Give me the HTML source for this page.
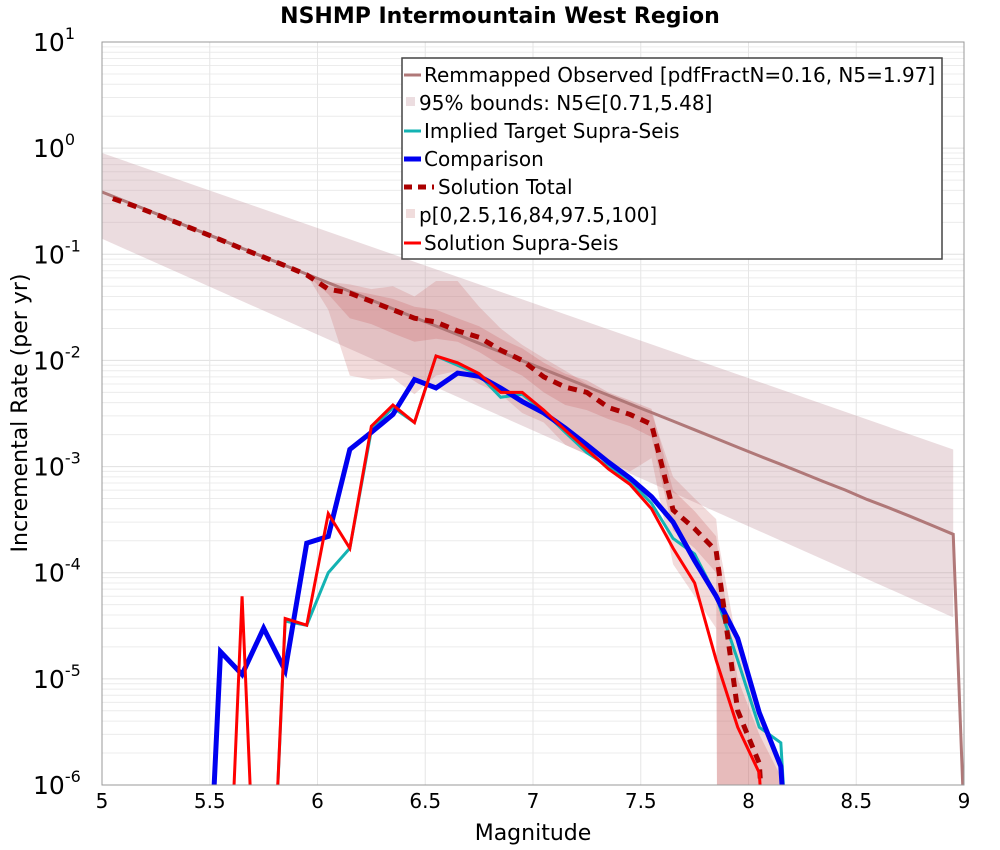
<!DOCTYPE html>
<html><head><meta charset="utf-8"><style>
html,body{margin:0;background:#fff;overflow:hidden;width:1000px;height:850px;}
svg{font-family:"DejaVu Sans","Liberation Sans",sans-serif;display:block;}
</style></head><body>
<svg id="chart" width="1000" height="850" xmlns="http://www.w3.org/2000/svg">
<defs><clipPath id="clip"><rect x="102" y="42" width="862" height="743"/></clipPath></defs>
<rect width="1000" height="850" fill="#fff"/>
<text x="500" y="23" text-anchor="middle" font-size="22" font-weight="bold">NSHMP Intermountain West Region</text>
<g id="grid"></g>
<g id="series" clip-path="url(#clip)"></g>
<rect x="102" y="42" width="862" height="743" fill="none" stroke="#999" stroke-width="1"/>
<g id="axes"></g>
<text x="533" y="840" text-anchor="middle" font-size="22">Magnitude</text>
<text transform="translate(27,413) rotate(-90)" text-anchor="middle" font-size="22">Incremental Rate (per yr)</text>
<g id="legend">
<rect x="402" y="58" width="540" height="201" fill="#fff" stroke="#444" stroke-width="1.5"/>
<g><line x1="404" y1="75" x2="421" y2="75" stroke="#b07878" stroke-width="3"/><text x="424" y="82" font-size="20">Remmapped Observed [pdfFractN=0.16, N5=1.97]</text></g>
<g><rect x="406" y="97" width="9" height="9" fill="#ecdde0"/><text x="419" y="110" font-size="20">95% bounds: N5∈[0.71,5.48]</text></g>
<g><line x1="404" y1="131" x2="421" y2="131" stroke="#13b3b3" stroke-width="3"/><text x="424" y="138" font-size="20">Implied Target Supra-Seis</text></g>
<g><line x1="404" y1="159" x2="421" y2="159" stroke="#0000f0" stroke-width="5"/><text x="424" y="166" font-size="20">Comparison</text></g>
<g><line x1="404" y1="187" x2="434" y2="187" stroke="#aa0000" stroke-width="5" stroke-dasharray="8,6"/><text x="438" y="194" font-size="20">Solution Total</text></g>
<g><rect x="406" y="209" width="9" height="9" fill="#f0dcdc"/><text x="419" y="222" font-size="20">p[0,2.5,16,84,97.5,100]</text></g>
<g><line x1="404" y1="243" x2="421" y2="243" stroke="#ff0000" stroke-width="3"/><text x="424" y="250" font-size="20">Solution Supra-Seis</text></g>
</g>
</svg>
<script>
const obsM=[5.0,5.05,5.15,5.25,5.35,5.45,5.55,5.65,5.75,5.85,5.95,6.05,6.15,6.25,6.35,6.45,6.55,6.65,6.75,6.85,6.95,7.05,7.15,7.25,7.35,7.45,7.55,7.65,7.75,7.85,7.95,8.05,8.15,8.25,8.35,8.45,8.55,8.65,8.75,8.85,8.95,9.05];
const obsRate=[0.386,0.352,0.292,0.242,0.200,0.166,0.138,0.114,0.0946,0.0784,0.0650,0.0539,0.0447,0.0370,0.0307,0.0254,0.0211,0.0175,0.0145,0.0120,0.00995,0.00825,0.00684,0.00567,0.00470,0.00389,0.00323,0.00268,0.00222,0.00184,0.00152,0.00126,0.00105,0.00087,0.00072,0.00060,0.00049,0.00041,0.00034,0.00028,0.00023,1e-12];
const boundM=[5.0,8.95];
const boundUpper=[0.9,0.00145];
const boundLower=[0.14,0.000038];
const binM=[5.45,5.55,5.65,5.75,5.85,5.95,6.05,6.15,6.25,6.35,6.45,6.55,6.65,6.75,6.85,6.95,7.05,7.15,7.25,7.35,7.45,7.55,7.65,7.75,7.85,7.95,8.05,8.15,8.25];
const comparison=[0,1.8e-5,1.1e-5,3.0e-5,1.2e-5,1.9e-4,2.2e-4,1.45e-3,2.1e-3,3.1e-3,6.6e-3,5.5e-3,7.6e-3,7.1e-3,5.5e-3,4.1e-3,3.2e-3,2.3e-3,1.6e-3,1.1e-3,7.8e-4,5.2e-4,3.0e-4,1.3e-4,6e-5,2.4e-5,4.8e-6,1.5e-6,0];
const implied=[0,0,0,0,3.5e-5,3.2e-5,1.0e-4,1.7e-4,2.2e-3,3.6e-3,2.6e-3,1.1e-2,9.0e-3,7.3e-3,4.5e-3,4.8e-3,3.3e-3,2.1e-3,1.35e-3,1.0e-3,7.3e-4,4.5e-4,2.1e-4,1.5e-4,6e-5,1.5e-5,3.5e-6,2.5e-6,0];
const supra=[0,0,6e-5,0,3.7e-5,3.2e-5,3.6e-4,1.7e-4,2.4e-3,3.8e-3,2.6e-3,1.1e-2,9.5e-3,7.5e-3,5.0e-3,5.0e-3,3.4e-3,2.2e-3,1.45e-3,9.5e-4,6.8e-4,4.0e-4,1.7e-4,8e-5,1.5e-5,3.5e-6,1.3e-6,0,0];
const totalM=[5.05,5.15,5.25,5.35,5.45,5.55,5.65,5.75,5.85,5.95,6.05,6.15,6.25,6.35,6.45,6.55,6.65,6.75,6.85,6.95,7.05,7.15,7.25,7.35,7.45,7.55,7.65,7.75,7.85,7.95,8.05,8.15];
const total=[0.335,0.285,0.238,0.198,0.165,0.137,0.113,0.094,0.078,0.064,0.047,0.043,0.036,0.030,0.025,0.023,0.019,0.0165,0.0125,0.0100,0.0070,0.0056,0.0050,0.0036,0.0031,0.0025,3.9e-4,2.6e-4,1.6e-4,5e-6,1.6e-6,0];
const pM=[5.95,6.05,6.15,6.25,6.35,6.45,6.55,6.65,6.75,6.85,6.95,7.05,7.15,7.25,7.35,7.45,7.55,7.65,7.75,7.85,7.86,7.95,8.05,8.15];
const pMax=[0.065,0.055,0.052,0.047,0.05,0.04,0.056,0.056,0.032,0.02,0.014,0.0105,0.008,0.006,0.0046,0.0038,0.0032,0.0008,0.0005,0.00032,0.0002,2e-5,5e-6,1.5e-6];
const pMin=[0.064,0.03,0.0072,0.0066,0.0068,0.0048,0.0072,0.008,0.006,0.0048,0.0032,0.0026,0.0016,0.0013,0.0011,0.0009,0.0012,1.2e-4,6e-5,3e-5,1e-9,1e-9,1e-9,1e-9];
const p84=[0.065,0.05,0.046,0.042,0.038,0.032,0.03,0.025,0.021,0.016,0.013,0.0095,0.0075,0.0065,0.005,0.0042,0.0035,0.0006,0.00038,0.00022,0.00015,1e-5,3e-6,1.2e-6];
const p16=[0.064,0.042,0.025,0.022,0.018,0.015,0.016,0.015,0.012,0.009,0.0072,0.005,0.0038,0.0034,0.0028,0.0024,0.0019,2.5e-4,1.7e-4,1e-4,1e-9,1e-9,1e-9,1e-9];
const xTicks=["5","5.5","6","6.5","7","7.5","8","8.5","9"];
const yExp=["1","0","-1","-2","-3","-4","-5","-6"];

const NS="http://www.w3.org/2000/svg";
const xs=m=>102+(m-5)*215.5;
const ys=v=>42+(1-Math.log10(Math.max(v,1e-9)))*106.142857;
function mk(tag,parent){const e=document.createElementNS(NS,tag);parent.appendChild(e);return e;}
const grid=document.getElementById('grid'),ser=document.getElementById('series'),axes=document.getElementById('axes');
for(let d=-6;d<1;d++){for(let k=1;k<10;k++){const y=ys(k*Math.pow(10,d));const l=mk('line',grid);


l.setAttribute('x1',102);l.setAttribute('x2',964);l.setAttribute('y1',y);l.setAttribute('y2',y);l.setAttribute('stroke',k==1?'#e0e0e0':'#ececec');l.setAttribute('stroke-width',1);}}
xTicks.forEach(t=>{const x=xs(parseFloat(t));const l=mk('line',grid);


l.setAttribute('x1',x);l.setAttribute('x2',x);l.setAttribute('y1',42);l.setAttribute('y2',785);l.setAttribute('stroke','#e6e6e6');
const tx=mk('text',axes);


tx.setAttribute('x',x);tx.setAttribute('y',808);tx.setAttribute('text-anchor','middle');tx.setAttribute('font-size','20');tx.textContent=t;});
yExp.forEach(e=>{const y=ys(Math.pow(10,parseFloat(e)));const tx=mk('text',axes);


tx.setAttribute('x',33);tx.setAttribute('y',y+9);tx.setAttribute('font-size','25');tx.textContent='10';
const s=mk('tspan',tx);s.setAttribute('dy','-12');s.setAttribute('font-size','16');s.textContent=e;});
function band(M,lo,hi,fill,name){const p=mk('polygon',ser);


const pts=[];M.forEach((m,i)=>pts.push(xs(m)+','+ys(hi[i])));for(let i=M.length-1;i>=0;i--)pts.push(xs(M[i])+','+ys(lo[i]));
p.setAttribute('points',pts.join(' '));p.setAttribute('fill',fill);}
function line(M,v,col,w,name,dash){const p=mk('polyline',ser);


p.setAttribute('points',M.map((m,i)=>xs(m)+','+ys(v[i])).join(' '));p.setAttribute('fill','none');p.setAttribute('stroke',col);p.setAttribute('stroke-width',w);p.setAttribute('stroke-linejoin','miter');if(dash)p.setAttribute('stroke-dasharray',dash);}
band(boundM,boundLower,boundUpper,'rgba(190,140,150,0.3)','95-bounds-band');
band(pM,pMin,pMax,'rgba(205,110,110,0.25)','percentile-band-outer');
band(pM,p16,p84,'rgba(200,90,90,0.25)','percentile-band-inner');
line(obsM,obsRate,'#b07878',3,'observed-line');
line(binM,implied,'#13b3b3',3,'implied-target-line');
line(binM,comparison,'#0000f0',5,'comparison-line');
line(totalM,total,'#aa0000',5,'solution-total-line','9,7');
line(binM,supra,'#ff0000',3,'solution-supra-line');
</script>
</body></html>
